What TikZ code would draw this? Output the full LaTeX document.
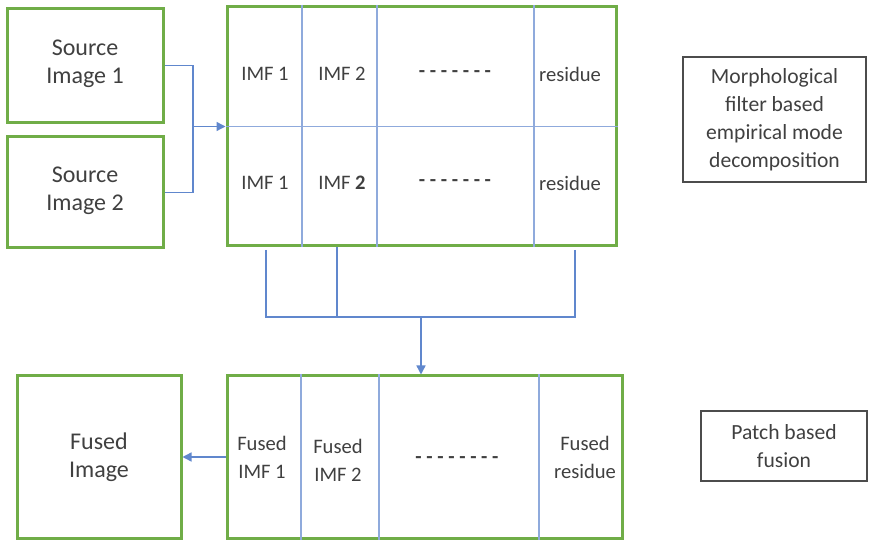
\documentclass[tikz,border=0pt]{standalone}
\usepackage{fontspec}
\setmainfont{Carlito}
\usepackage{xcolor}
\usepackage{tikz}
\usetikzlibrary{arrows.meta}
\definecolor{boxgreen}{RGB}{112,173,71}
\definecolor{lineblue}{RGB}{68,114,196}
\definecolor{cellblue}{RGB}{143,170,220}
\definecolor{inkgray}{RGB}{64,64,64}
\tikzset{
	green box/.style={draw=boxgreen,line width=1.5pt,align=center,text=inkgray,
		font=\fontsize{12}{14}\selectfont,inner sep=0pt},
	side box/.style={draw=black!70,line width=0.6pt,align=center,text=inkgray,
		font=\fontsize{10.8}{14}\selectfont,inner sep=0pt},
	cell/.style={align=center,text=inkgray,font=\fontsize{10.3}{14}\selectfont},
	cell line/.style={draw=cellblue,line width=0.7pt},
	blue line/.style={draw=lineblue!85,line width=0.7pt}
}

\begin{document}
\begin{tikzpicture}[x=0.5pt,y=-0.5pt,>={Triangle[length=4.5pt,width=4.5pt]}]
	\useasboundingbox (0,0) rectangle (869,540);
	% blocks
	\node [green box,minimum width=78pt,minimum height=57pt] (src1) at (85,65.5) {Source\\Image 1\\[-10pt]};
	\node [green box,minimum width=78pt,minimum height=55.5pt] (src2) at (85,192.5) {Source\\Image 2\\[-10pt]};
	\node [green box,minimum width=194.5pt,minimum height=119.5pt] (emd) at (421.5,126.5) {};
	\node [green box,minimum width=197.5pt,minimum height=81pt] (fus) at (424.5,457) {};
	\node [green box,minimum width=82pt,minimum height=81pt] (out) at (99,457) {Fused\\Image};
	\node [side box,minimum width=91.5pt,minimum height=62.5pt] (lab1) at (774.5,119.5) {Morphological\\filter based\\empirical mode\\decomposition};
	\node [side box,minimum width=83pt,minimum height=35pt] (lab2) at (784,446) {Patch based\\fusion};
	% grid of the decomposition
	\draw [cell line] (emd.west) -- (emd.east);
	\foreach \x in {302,377,534}
		\draw [cell line] (\x,0 |- emd.north) -- (\x,0 |- emd.south);
	\foreach \x in {301,379,539}
		\draw [cell line] (\x,0 |- fus.north) -- (\x,0 |- fus.south);
	\node [cell] (a1) at (265,74) {IMF 1};
	\node [cell] (a2) at (342,74) {IMF 2};
	\node [cell] (a3) at (455,74) {\textbf{- - - - - - -}};
	\node [cell] (a4) at (570,74) {residue};
	\node [cell] (b1) at (265,183) {IMF 1};
	\node [cell] (b2) at (342,183) {IMF \textbf{2}};
	\node [cell] (b3) at (455,183) {\textbf{- - - - - - -}};
	\node [cell] (b4) at (570,183) {residue};
	\node [cell] (c1) at (262,457) {Fused\\IMF 1};
	\node [cell] (c2) at (338,460) {Fused\\IMF 2};
	\node [cell] (c3) at (457,460) {\textbf{- - - - - - - -}};
	\node [cell] (c4) at (585,457) {Fused\\residue};
	% connectors
	\coordinate (join) at (193,126.5);
	\coordinate (merge) at (421,317);
	\draw [blue line] (src1.east) -| (join);
	\draw [blue line] (src2.east) -| (join);
	\draw [blue line,->] (join) -- (emd.west);
	\draw [blue line] (266,250) |- (merge);
	\draw [blue line] (337,0 |- emd.south) -- (337,317);
	\draw [blue line] (575,250) |- (merge);
	\draw [blue line,->] (merge) -- (merge |- fus.north);
	\draw [blue line,->] (fus.west) -- (out.east);
\end{tikzpicture}
\end{document}
